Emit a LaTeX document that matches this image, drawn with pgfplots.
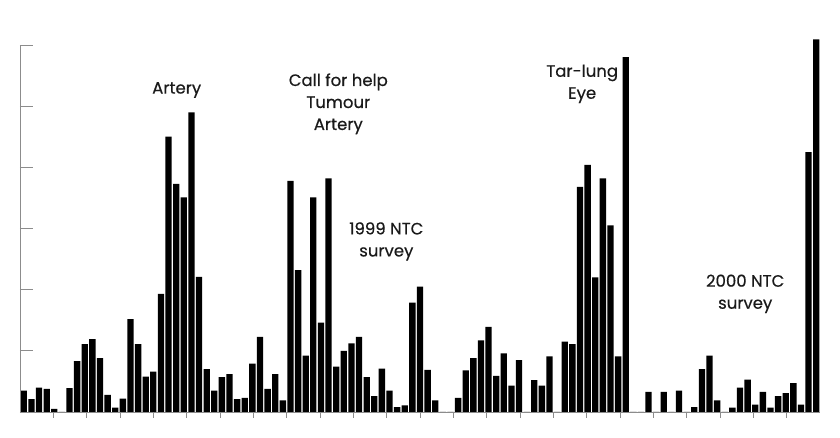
\documentclass[border=0pt]{standalone}
\usepackage{pgfplots}
\pgfplotsset{compat=1.18}
\usepackage{fontspec}
\setmainfont{Poppins}[FakeBold=0.5]
\definecolor{axisgray}{HTML}{8C8C8C}
\definecolor{txt}{HTML}{1A1A1A}
\begin{document}
\begin{tikzpicture}
\useasboundingbox (0,0) rectangle (840pt,438pt);
\begin{axis}[
  at={(20pt,26pt)}, anchor=south west,
  scale only axis, width=800pt, height=367pt,
  xmin=-0.5, xmax=104.5, ymin=0, ymax=60,
  clip=false,
  axis x line*=bottom, axis y line=none,
  x axis line style={axisgray, line width=0.8pt},
  xtick={3.875,8.25,12.625,17,21.375,25.75,30.125,34.5,38.875,43.25,47.625,52,56.375,60.75,65.125,69.5,73.875,78.25,82.625,87,91.375,95.75,100.125},
  xticklabels={},
  tick align=outside, major tick length=6pt,
  tick style={axisgray, line width=0.8pt},
  ytick=\empty,
  ybar, bar width=0.83,
]
\addplot[fill=black, draw=none] coordinates {
(0,3.5) (1,2.1) (2,4.0) (3,3.8) (4,0.5) (5,0) (6,3.9) (7,8.3) (8,11.1) (9,11.9)
(10,8.8) (11,2.8) (12,0.7) (13,2.2) (14,15.2) (15,11.1) (16,5.8) (17,6.6) (18,19.3) (19,45.0)
(20,37.3) (21,35.1) (22,49.0) (23,22.1) (24,7.0) (25,3.5) (26,5.7) (27,6.2) (28,2.1) (29,2.3)
(30,7.9) (31,12.3) (32,3.8) (33,6.2) (34,1.9) (35,37.8) (36,23.2) (37,9.2) (38,35.1) (39,14.6)
(40,38.2) (41,7.4) (42,10.0) (43,11.2) (44,12.3) (45,5.7) (46,2.6) (47,7.1) (48,3.5) (49,0.8)
(50,1.1) (51,17.9) (52,20.5) (53,6.9) (54,1.9) (55,0) (56,0) (57,2.3) (58,6.8) (59,8.8)
(60,11.7) (61,13.9) (62,5.9) (63,9.6) (64,4.3) (65,8.5) (66,0) (67,5.2) (68,4.3) (69,9.1)
(70,0) (71,11.5) (72,11.1) (73,36.8) (74,40.4) (75,22.0) (76,38.2) (77,30.5) (78,9.1) (79,58.0)
(80,0) (81,0) (82,3.3) (83,0) (84,3.3) (85,0) (86,3.5) (87,0) (88,0.8) (89,7.0)
(90,9.2) (91,1.9) (92,0) (93,0.7) (94,4.0) (95,5.3) (96,1.2) (97,3.3) (98,0.7) (99,2.6)
(100,3.1) (101,4.7) (102,1.2) (103,42.5) (104,60.9)
};
\end{axis}
\begin{axis}[
  at={(20pt,26pt)}, anchor=south west,
  scale only axis, width=800pt, height=367pt,
  xmin=-0.5, xmax=104.5, ymin=0, ymax=60,
  axis x line=none, axis y line*=left,
  y axis line style={axisgray, line width=0.8pt},
  xtick=\empty, ytick={10,20,30,40,50,60}, yticklabels={},
  tick align=inside, major tick length=13pt,
  tick style={axisgray, line width=0.8pt},
]
\end{axis}
\begin{scope}[every node/.style={text=txt, font=\fontsize{16.5}{22}\selectfont, align=center, inner sep=0pt}]
\node at (176.7pt,348pt) {Artery};
\node at (338.3pt,334.2pt) {Call for help\\Tumour\\Artery};
\node at (386.3pt,196.5pt) {1999 NTC\\survey};
\node at (582.2pt,354.2pt) {Tar-lung\\Eye};
\node at (745.2pt,144.2pt) {2000 NTC\\survey};
\end{scope}
\end{tikzpicture}
\end{document}
